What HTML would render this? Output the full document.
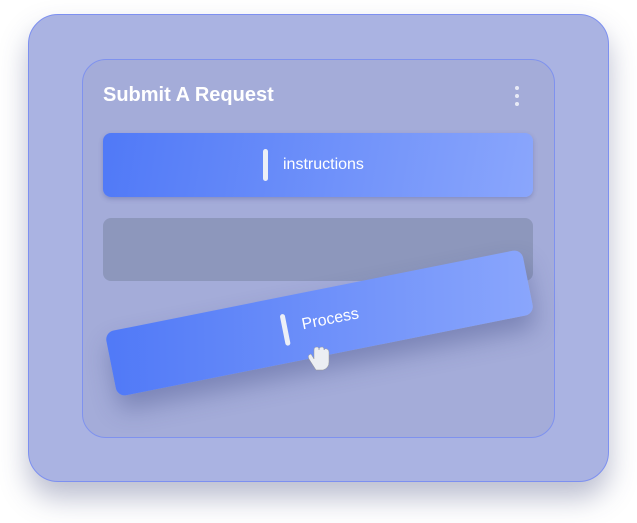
<!DOCTYPE html>
<html><head><style>
body{margin:0;width:637px;height:523px;background:#fff;position:relative;overflow:hidden;font-family:"Liberation Sans",sans-serif}
.outer{position:absolute;left:28px;top:14px;width:579px;height:466px;border-radius:30px;background:#aab3e2;border:1.5px solid #7d90f0;box-shadow:0 16px 28px rgba(60,70,120,.35)}
.inner{position:absolute;left:82px;top:59px;width:471px;height:377px;border-radius:24px;background:#a4acd9;border:1.5px solid #7f92ee}
.title{position:absolute;left:103px;top:84px;color:#fff;font-weight:bold;font-size:20px}
.dot{position:absolute;left:515px;width:4px;height:4px;border-radius:2px;background:#e8eaf6}
.inp{position:absolute;left:103px;top:133px;width:430px;height:64px;border-radius:8px;background:linear-gradient(100deg,#5079f7,#8aa6fc);box-shadow:0 2px 5px rgba(60,70,140,.3)}
.gray{position:absolute;left:103px;top:218px;width:430px;height:63px;border-radius:8px;background:#8d97bc}
.bar{position:absolute;left:107px;top:290px;width:425px;height:66px;border-radius:9px;background:linear-gradient(100deg,#5079f7,#8aa6fc);transform:rotate(-11.3deg);box-shadow:0 14px 24px rgba(50,60,120,.35)}
.cur{position:absolute;width:5px;height:32px;border-radius:3px;background:#eceff7}
.txt{position:absolute;color:#fff;font-size:16px}
</style></head><body>
<div class="outer"></div>
<div class="inner"></div>
<div class="title">Submit A Request</div>
<div class="dot" style="top:86px"></div><div class="dot" style="top:94px"></div><div class="dot" style="top:102px"></div>
<div class="inp"><div class="cur" style="left:160px;top:16px"></div><div class="txt" style="left:180px;top:23px">instructions</div></div>
<div class="gray"></div>
<div class="bar"><div class="cur" style="left:175px;top:17px"></div><div class="txt" style="left:195px;top:23px">Process</div></div>
<svg style="position:absolute;left:305px;top:345px" width="30" height="30" viewBox="0 0 30 30"><path d="M4 14 q-2 -4 2 -5 l3 5 v-9 q0 -3 3 -3 q2 0 2 3 q0 -3 3 -3 q2 0 2 3 q1 -2 3 -1 q2 1 2 3 v10 q0 6 -6 8 h-7 z" fill="#eceef3" stroke="#999" stroke-width=".5"/></svg>
</body></html>
